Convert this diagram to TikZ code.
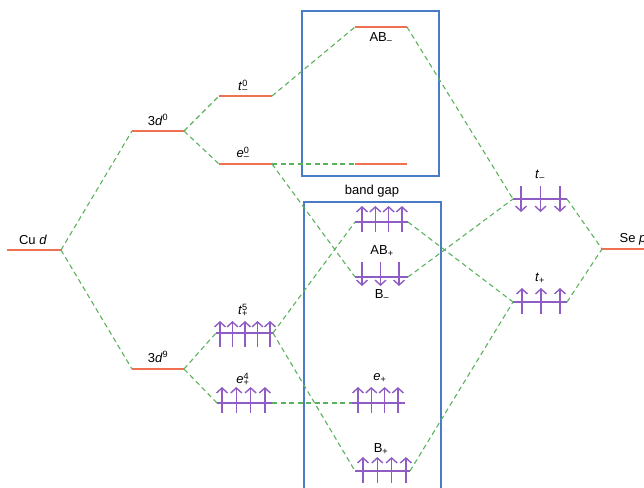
\documentclass[tikz,border=0pt]{standalone}
\usepackage{fontspec}
\setmainfont{Liberation Sans}
\usetikzlibrary{arrows.meta}

\definecolor{levelc}{RGB}{240,112,82}
\definecolor{linkc}{RGB}{92,178,92}
\definecolor{boxc}{RGB}{74,123,200}
\definecolor{spinc}{RGB}{142,92,194}

% level: [style], name, left x, right x, y
\newcommand{\lvl}[5][level]{%
  \coordinate (#2-l) at (#3,#5);
  \coordinate (#2-r) at (#4,#5);
  \draw[#1] (#2-l) -- (#2-r);}
% orbital label: letter, sup, sub
\newcommand{\orb}[3]{\textit{#1}\rlap{\textsuperscript{#2}}\textsubscript{#3}}

\begin{document}
\begin{tikzpicture}[x=1pt, y=-1pt,
    level/.style={draw=levelc, line width=1.3pt},
    spinlevel/.style={draw=spinc, line width=1.3pt},
    link/.style={draw=linkc, line width=1.1pt, dash pattern=on 5pt off 3.5pt},
    bandbox/.style={draw=boxc, line width=1.3pt},
    spin/.style={draw=spinc, line width=1.6pt, -{Straight Barb[length=5pt,width=11pt,line width=1.4pt]}},
    lab/.style={font=\fontsize{13}{15}\selectfont, inner sep=0pt}]
    \useasboundingbox (0,0) rectangle (644,487);

    % ==== BOXES ====
    \draw[bandbox] (302,11) rectangle (439,176);
    \draw[bandbox] (304,202) rectangle (441,495);
    \node[lab] (gap) at (372,191) {band gap};

    % ==== LEVELS ====
    \lvl{cud}{7}{61}{250}
    \lvl{dzero}{132}{184}{131}
    \lvl{dnine}{132}{184}{369}
    \lvl{tm0}{219}{272}{96}
    \lvl{em0}{219}{272}{164}
    \lvl[spinlevel]{tp5}{216}{273}{333}
    \lvl[spinlevel]{ep4}{217}{272}{403}
    \lvl{abm}{355}{407}{27}
    \lvl{emr}{355}{407}{164}
    \lvl[spinlevel]{abp}{355}{408}{222}
    \lvl[spinlevel]{bm}{355}{408}{277}
    \lvl[spinlevel]{epr}{352}{405}{403}
    \lvl[spinlevel]{bp}{355}{410}{471}
    \lvl[spinlevel]{tm}{513}{567}{199}
    \lvl[spinlevel]{tp}{513}{567}{302}
    \lvl{sep}{602}{650}{249}

    % ==== LABELS ====
    \node[lab] (lcud) at (33,240) {Cu \textit{d}};
    \node[lab] (ldzero) at (158,120) {3\textit{d}\textsuperscript{0}};
    \node[lab] (ldnine) at (158,357) {3\textit{d}\textsuperscript{9}};
    \node[lab] (ltm0) at (243,86) {\orb{t}{0}{--}};
    \node[lab] (lem0) at (243,153) {\orb{e}{0}{--}};
    \node[lab] (ltp5) at (243,310) {\orb{t}{5}{+}};
    \node[lab] (lep4) at (243,379) {\orb{e}{4}{+}};
    \node[lab] (labm) at (381,38) {AB\textsubscript{--}};
    \node[lab] (labp) at (382,251) {AB\textsubscript{+}};
    \node[lab] (lbm) at (382,295) {B\textsubscript{--}};
    \node[lab] (lepr) at (380,378) {\textit{e}\textsubscript{+}};
    \node[lab] (lbp) at (381,449) {B\textsubscript{+}};
    \node[lab] (ltm) at (540,175) {\textit{t}\textsubscript{--}};
    \node[lab] (ltp) at (540,278) {\textit{t}\textsubscript{+}};
    \node[lab] (lsep) at (633,239) {Se \textit{p}};

    % ==== CONNECTIONS ====
    \draw[link] (cud-r) -- (dzero-l);
    \draw[link] (cud-r) -- (dnine-l);
    \draw[link] (dzero-r) -- (tm0-l);
    \draw[link] (dzero-r) -- (em0-l);
    \draw[link] (dnine-r) -- (tp5-l);
    \draw[link] (dnine-r) -- (ep4-l);
    \draw[link] (tm0-r) -- (abm-l);
    \draw[link] (em0-r) -- (emr-l);
    \draw[link] (em0-r) -- (bm-l);
    \draw[link] (tp5-r) -- (abp-l);
    \draw[link] (tp5-r) -- (bp-l);
    \draw[link] (ep4-r) -- (epr-l);
    \draw[link] (abm-r) -- (tm-l);
    \draw[link] (bm-r) -- (tm-l);
    \draw[link] (abp-r) -- (tp-l);
    \draw[link] (bp-r) -- (tp-l);
    \draw[link] (tm-r) -- (sep-l);
    \draw[link] (tp-r) -- (sep-l);

    % ==== SPINS ====
    \foreach \i in {0,...,4} \draw[spin] ({220+12.5*\i},347) -- ++(0,-26);
    \foreach \i in {0,...,3} \draw[spin] ({222+14.3*\i},413) -- ++(0,-26);
    \foreach \i in {0,...,3} \draw[spin] ({362+13.3*\i},232) -- ++(0,-26);
    \foreach \i in {0,...,2} \draw[spin] ({362+18.5*\i},262) -- ++(0,24);
    \foreach \i in {0,...,3} \draw[spin] ({358+13.3*\i},413) -- ++(0,-26);
    \foreach \i in {0,...,3} \draw[spin] ({363+14.3*\i},483) -- ++(0,-26);
    \foreach \i in {0,...,2} \draw[spin] ({521+19.5*\i},186) -- ++(0,26);
    \foreach \i in {0,...,2} \draw[spin] ({522+19*\i},314) -- ++(0,-26);
\end{tikzpicture}
\end{document}
